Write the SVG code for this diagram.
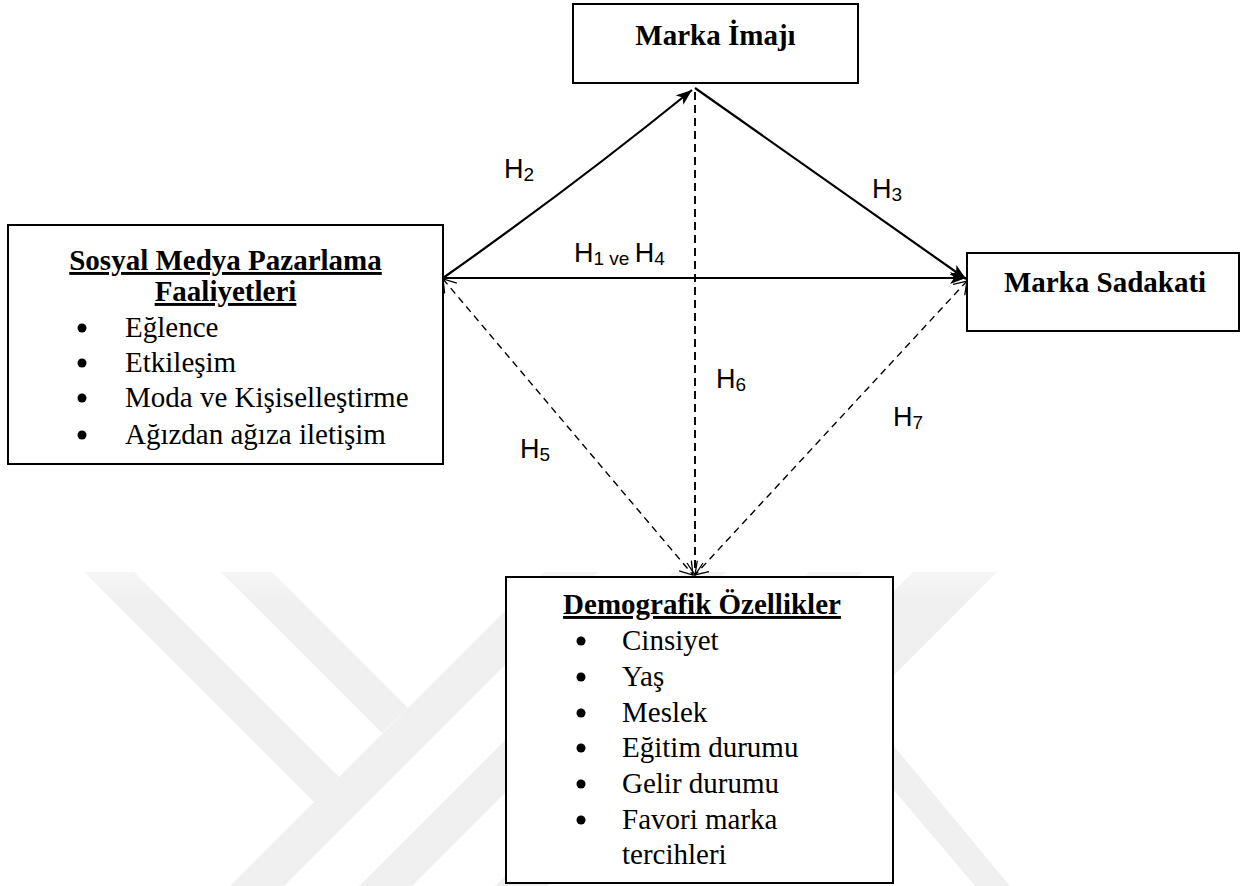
<svg xmlns="http://www.w3.org/2000/svg" width="1245" height="886" viewBox="0 0 1245 886">
<style>
.box{fill:#fff;stroke:#000;stroke-width:2}
.title{font-family:"Liberation Serif","Times New Roman",serif;font-size:29px;font-weight:bold;fill:#000}
.ul{text-decoration:underline}
.item{font-family:"Liberation Serif","Times New Roman",serif;font-size:29px;fill:#000}
.lbl{font-family:"Liberation Sans",Arial,sans-serif;font-size:27px;fill:#000}
.sub{font-size:19px}
.solid{fill:none;stroke:#000;stroke-width:2.2}
.dash{fill:none;stroke:#000;stroke-width:1.4;stroke-dasharray:7 5}
.vdash{fill:none;stroke:#000;stroke-width:1.9;stroke-dasharray:8 5}
.wm{fill:url(#wmfade)}
</style>
<defs>
<linearGradient id="wmfade" gradientUnits="userSpaceOnUse" x1="0" y1="570" x2="0" y2="600">
<stop offset="0" stop-color="#f6f6f6"/>
<stop offset="1" stop-color="#f0f0f0"/>
</linearGradient>
<marker id="fill" markerUnits="userSpaceOnUse" markerWidth="18" markerHeight="14" refX="16" refY="6" orient="auto">
<path d="M0,0 L16,6 L0,12 L4,6 z" fill="#000"/>
</marker>
<marker id="open" markerUnits="userSpaceOnUse" markerWidth="16" markerHeight="20" refX="13" refY="9" orient="auto-start-reverse">
<path d="M1,1 L13,9 L1,17" fill="none" stroke="#000" stroke-width="1.3"/>
</marker>
</defs>
<rect width="1245" height="886" fill="#fff"/>
<g id="watermark">
<polygon class="wm" points="84,572 134,572 339,777 314,802"/>
<polygon class="wm" points="221,572 272,572 408,708 382,733"/>
<polygon class="wm" points="544,572 598,572 284,886 230,886"/>
<polygon class="wm" points="673,572 726,572 412,886 359,886"/>
<polygon class="wm" points="809,572 862,572 548,886 495,886"/>
<polygon class="wm" points="913,572 997,572 769,800 685,800"/>
<polygon class="wm" points="860,710 893,745 1010,886 975,886 860,750"/>
</g>
<g id="connectors">
<path class="solid" d="M443,278 Q575,185 692,90" marker-end="url(#fill)"/>
<path class="solid" d="M695,88 L966,279" marker-end="url(#fill)"/>
<path class="solid" d="M443,278 L966,278" marker-end="url(#fill)"/>
<path class="dash" d="M443,279 L693,575" marker-start="url(#open)" marker-end="url(#open)"/>
<path class="vdash" d="M695,92 L695,575" marker-end="url(#open)"/>
<path class="dash" d="M967,281 L695,575" marker-start="url(#open)" marker-end="url(#open)"/>
<text class="lbl" x="504" y="178">H<tspan class="sub" dy="3">2</tspan></text>
<text class="lbl" x="872" y="198">H<tspan class="sub" dy="3">3</tspan></text>
<text class="lbl" x="574" y="262">H<tspan class="sub" dy="3">1 ve </tspan><tspan dy="-3">H</tspan><tspan class="sub" dy="3">4</tspan></text>
<text class="lbl" x="520" y="458">H<tspan class="sub" dy="3">5</tspan></text>
<text class="lbl" x="716" y="388">H<tspan class="sub" dy="3">6</tspan></text>
<text class="lbl" x="893" y="426">H<tspan class="sub" dy="3">7</tspan></text>
</g>
<g id="marka-imaji">
<rect class="box" x="573" y="4" width="285" height="79"/>
<text class="title" x="715.5" y="45" text-anchor="middle">Marka İmajı</text>
</g>
<g id="marka-sadakati">
<rect class="box" x="967" y="253" width="272" height="78"/>
<text class="title" x="1105" y="292" text-anchor="middle">Marka Sadakati</text>
</g>
<g id="sosyal-medya">
<rect class="box" x="8" y="225" width="435" height="239"/>
<text class="title ul" x="225.5" y="270" text-anchor="middle">Sosyal Medya Pazarlama</text>
<text class="title ul" x="225.5" y="301" text-anchor="middle">Faaliyetleri</text>
<circle cx="82" cy="328" r="4.5"/>
<text class="item" x="125" y="337">Eğlence</text>
<circle cx="82" cy="363" r="4.5"/>
<text class="item" x="125" y="372">Etkileşim</text>
<circle cx="82" cy="398" r="4.5"/>
<text class="item" x="125" y="407">Moda ve Kişiselleştirme</text>
<circle cx="82" cy="435" r="4.5"/>
<text class="item" x="125" y="444">Ağızdan ağıza iletişim</text>
</g>
<g id="demografik">
<rect class="box" x="506" y="577" width="387" height="306"/>
<text class="title ul" x="702" y="614" text-anchor="middle">Demografik Özellikler</text>
<circle cx="581" cy="641" r="4.5"/>
<text class="item" x="622" y="650">Cinsiyet</text>
<circle cx="581" cy="677" r="4.5"/>
<text class="item" x="622" y="686">Yaş</text>
<circle cx="581" cy="713" r="4.5"/>
<text class="item" x="622" y="722">Meslek</text>
<circle cx="581" cy="748" r="4.5"/>
<text class="item" x="622" y="757">Eğitim durumu</text>
<circle cx="581" cy="784" r="4.5"/>
<text class="item" x="622" y="793">Gelir durumu</text>
<circle cx="581" cy="820" r="4.5"/>
<text class="item" x="622" y="829">Favori marka</text>
<text class="item" x="622" y="864">tercihleri</text>
</g>
</svg>
